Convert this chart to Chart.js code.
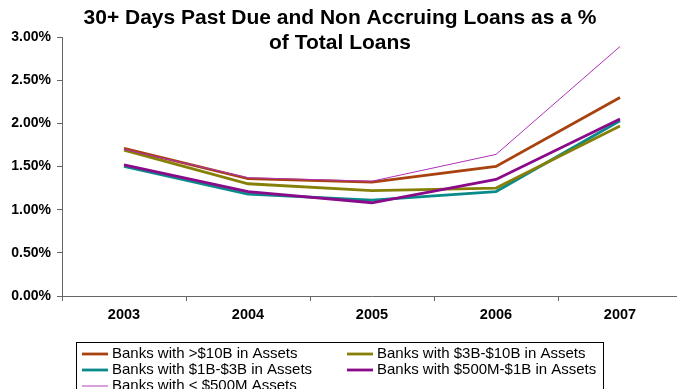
<!DOCTYPE html>
<html>
<head>
<meta charset="utf-8">
<script src="https://cdn.jsdelivr.net/npm/chart.js@4"></script>
<style>
  html, body { margin: 0; padding: 0; background: #fff; overflow: hidden; }
  #wrap { width: 700px; height: 389px; }
</style>
</head>
<body>
<div id="wrap"><canvas id="loanChart" width="700" height="389"></canvas></div>
<script>
// Data (percent of total loans)
const years = ['2003', '2004', '2005', '2006', '2007'];
const over10B = [1.71, 1.36, 1.32, 1.50, 2.30];
const from3To10B = [1.69, 1.30, 1.22, 1.25, 1.97];
const from1To3B = [1.50, 1.18, 1.11, 1.21, 2.03];
const from500MTo1B = [1.52, 1.21, 1.08, 1.35, 2.05];
const under500M = [1.70, 1.37, 1.33, 1.64, 2.89];
const yTicks = [0, 0.5, 1, 1.5, 2, 2.5, 3];

const titleLines = ['30+ Days Past Due and Non Accruing Loans as a %', 'of Total Loans'];
const fontFamily = '"Liberation Sans", Arial, sans-serif';

// Title and boxed legend drawn by hand
const decorations = {
    id: 'decorations',
    afterDraw(chart) {
        const ctx = chart.ctx;
        ctx.save();
        ctx.fillStyle = '#000';
        ctx.textAlign = 'center';
        ctx.textBaseline = 'middle';
        ctx.font = 'bold 21px ' + fontFamily;
        ctx.fillText(titleLines[0], 340, 18);
        ctx.fillText(titleLines[1], 340, 43);

        // legend box
        ctx.strokeStyle = '#000';
        ctx.lineWidth = 1;
        ctx.strokeRect(76.5, 342.5, 527, 60);
        ctx.font = '15px ' + fontFamily;
        ctx.textAlign = 'left';
        const cols = [82, 347];
        const rows = [354, 370, 386];
        chart.data.datasets.forEach((ds, i) => {
            const x = cols[i % 2];
            const y = rows[Math.floor(i / 2)];
            ctx.strokeStyle = ds.legendColor || ds.borderColor;
            ctx.lineWidth = ds.borderWidth >= 2 ? 2.8 : 1.5;
            ctx.beginPath();
            ctx.moveTo(x, y);
            ctx.lineTo(x + 26, y);
            ctx.stroke();
            ctx.fillStyle = '#000';
            ctx.fillText(ds.label, x + 30, y);
        });
        ctx.restore();
    }
};

const ctx = document.getElementById('loanChart').getContext('2d');
const loanChart = new Chart(ctx, {
    type: 'line',
    data: {
        labels: years,
        datasets: [
            { label: 'Banks with >$10B in Assets', data: over10B, borderColor: '#a8420e', borderWidth: 2.8, order: 1 },
            { label: 'Banks with $3B-$10B in Assets', data: from3To10B, borderColor: '#868008', borderWidth: 2.8, order: 3 },
            { label: 'Banks with $1B-$3B in Assets', data: from1To3B, borderColor: '#0a8a8a', borderWidth: 2.8, order: 4 },
            { label: 'Banks with $500M-$1B in Assets', data: from500MTo1B, borderColor: '#8a0a8a', borderWidth: 2.8, order: 2 },
            { label: 'Banks with < $500M Assets', data: under500M, borderColor: '#b030b8', legendColor: '#cc80cc', borderWidth: 1, order: 0 }
        ]
    },
    options: {
        responsive: false,
        animation: false,
        events: [],
        elements: {
            point: { radius: 0 },
            line: { tension: 0, borderJoinStyle: 'miter' }
        },
        layout: {
            padding: { top: 37, right: 18, bottom: 63, left: 0 }
        },
        plugins: {
            legend: { display: false },
            title: { display: false },
            tooltip: { enabled: false }
        },
        scales: {
            x: {
                offset: true,
                border: { color: '#666', width: 1 },
                grid: { offset: true, drawOnChartArea: false, tickLength: 5, color: '#666' },
                ticks: {
                    color: '#000',
                    padding: 5,
                    maxRotation: 0,
                    font: { family: fontFamily, size: 14.5, weight: 'bold' }
                },
                afterFit(scale) { scale.height = 30; }
            },
            y: {
                min: 0,
                max: 3,
                border: { color: '#666', width: 1 },
                grid: { drawOnChartArea: false, tickLength: 5, color: '#666' },
                afterBuildTicks(scale) {
                    scale.ticks = yTicks.map(v => ({ value: v }));
                },
                ticks: {
                    color: '#000',
                    padding: 6,
                    callback: v => v.toFixed(2) + '%',
                    font: { family: fontFamily, size: 14, weight: 'bold' }
                },
                afterFit(scale) { scale.width = 62; }
            }
        }
    },
    plugins: [decorations]
});
</script>
</body>
</html>
